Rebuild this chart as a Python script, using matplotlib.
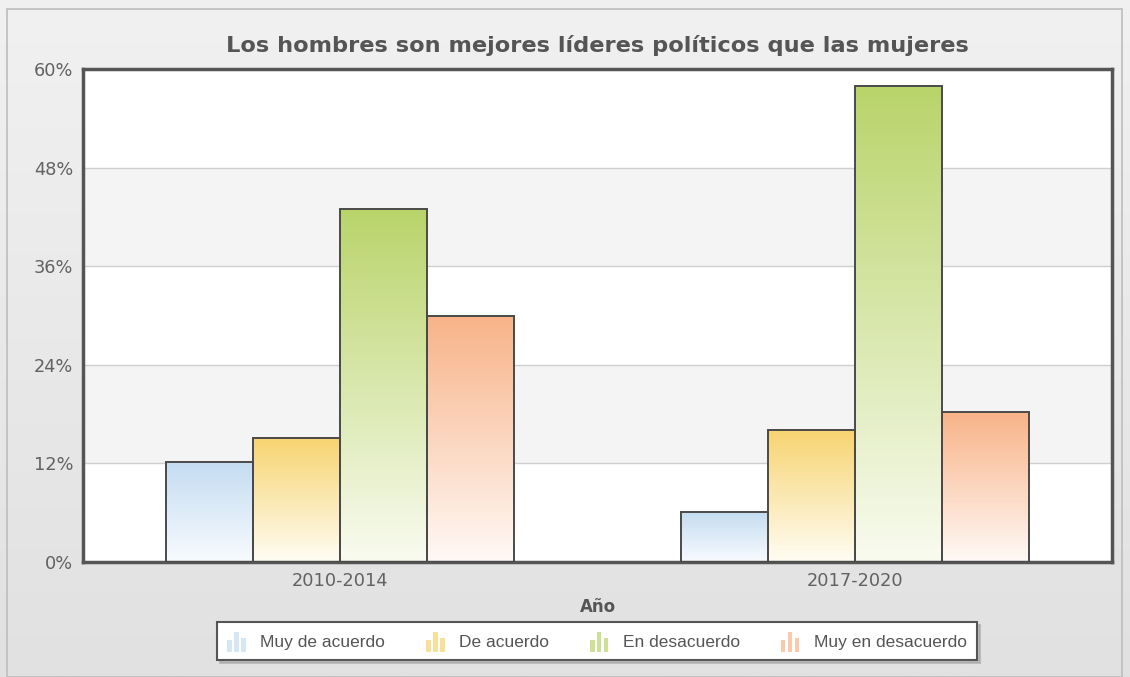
"""Los hombres son mejores líderes políticos que las mujeres - grouped bars."""

import matplotlib

matplotlib.use("Agg")
import matplotlib.pyplot as plt
import numpy as np
from matplotlib.colors import LinearSegmentedColormap
from matplotlib.legend_handler import HandlerBase
from matplotlib.patches import Rectangle

periods = ["2010-2014", "2017-2020"]
series = ["Muy de acuerdo", "De acuerdo", "En desacuerdo", "Muy en desacuerdo"]
values = [
    [12.2, 6.1],   # Muy de acuerdo
    [15.1, 16.1],  # De acuerdo
    [43.0, 57.9],  # En desacuerdo
    [30.0, 18.2],  # Muy en desacuerdo
]
yticks = [0, 12, 24, 36, 48, 60]

top_colors = ["#c4dcf1", "#f7d470", "#b9d46a", "#f8b388"]
bottom_colors = ["#f8fbff", "#fffdf4", "#f9fbf0", "#fff9f6"]


class BarIcon(HandlerBase):
    """Small three-bar icon used in the legend."""

    def __init__(self, color):
        super().__init__()
        self.color = color

    def create_artists(self, legend, orig_handle, xdescent, ydescent,
                       width, height, fontsize, trans):
        bw = width / 4.0
        heights = [0.6, 1.0, 0.7]
        arts = []
        for i, h in enumerate(heights):
            r = Rectangle((-xdescent + i * bw * 1.45, -ydescent - 0.15 * height),
                          bw, height * h * 1.15,
                          facecolor=self.color, edgecolor="none",
                          alpha=0.7, transform=trans)
            arts.append(r)
        return arts


def main() -> None:
    fig = plt.figure(figsize=(11.3, 6.77), dpi=100)

    # background gradient
    bg = fig.add_axes([0, 0, 1, 1], zorder=-10)
    bg_cmap = LinearSegmentedColormap.from_list("bg", ["#f1f1f1", "#e1e1e1"])
    bg.imshow(np.linspace(0, 1, 256).reshape(-1, 1), cmap=bg_cmap,
              aspect="auto", extent=[0, 1, 0, 1])
    bg.add_patch(Rectangle((7 / 1130, 0), 1115 / 1130, 1 - 9 / 677,
                           fill=False, edgecolor="#bdbdbd", lw=1.2))
    bg.set_xlim(0, 1)
    bg.set_ylim(0, 1)
    bg.axis("off")

    ax = fig.add_axes([83 / 1130, 1 - 562 / 677, 1029 / 1130, 493 / 677])
    ax.set_facecolor("white")

    # alternating bands
    for i in range(len(yticks) - 1):
        if i % 2 == 1:
            ax.axhspan(yticks[i], yticks[i + 1], color="#f4f4f4", zorder=0, lw=0)
    for t in yticks[1:-1]:
        ax.axhline(t, color="#cfcfcf", lw=1, zorder=1)

    n = len(series)
    width = 0.169
    x = np.arange(len(periods))
    grad = np.linspace(0, 1, 256).reshape(-1, 1)
    for i, name in enumerate(series):
        cmap = LinearSegmentedColormap.from_list(
            name, [bottom_colors[i], top_colors[i]])
        offs = x + (i - (n - 1) / 2) * width
        for xc, v in zip(offs, values[i]):
            ax.imshow(grad, cmap=cmap, origin="lower", aspect="auto",
                      extent=[xc - width / 2, xc + width / 2, 0, v], zorder=2)
        ax.bar(offs, values[i], width, facecolor="none", edgecolor="#4a4a4a",
               lw=1.4, zorder=3)

    ax.set_xlim(-0.5, 1.5)
    ax.set_ylim(0, 60)
    ax.set_xticks(x)
    ax.set_xticklabels(periods)
    ax.set_yticks(yticks)
    ax.set_yticklabels([f"{t}%" for t in yticks])
    ax.tick_params(length=0, labelsize=12.8, labelcolor="#626262", pad=7)
    for s in ax.spines.values():
        s.set_color("#555555")
        s.set_linewidth(2.5)

    ax.set_xlabel("Año", fontsize=12, fontweight="bold", color="#555555",
                  labelpad=6)
    fig.text(597 / 1130, 1 - 45 / 677,
             "Los hombres son mejores líderes políticos que las mujeres",
             ha="center", va="center", fontsize=16.2, fontweight="bold",
             color="#555555")

    handles = [Rectangle((0, 0), 1, 1) for _ in series]
    leg = fig.legend(
        handles, series, ncol=4, loc="center",
        bbox_to_anchor=(597 / 1130, 1 - 641 / 677),
        handler_map={h: BarIcon(c) for h, c in zip(handles, top_colors)},
        prop={"family": "Liberation Sans", "size": 12.5},
        frameon=True, fancybox=False,
        shadow={"ox": 2, "oy": -2, "color": "#9a9a9a"},
        handlelength=1.1, handleheight=1.1, handletextpad=0.8,
        columnspacing=2.35, borderpad=0.6,
    )
    leg.get_frame().set_edgecolor("#555555")
    leg.get_frame().set_linewidth(1.5)
    for t in leg.get_texts():
        t.set_color("#555555")

    fig.savefig("out.png", dpi=100)


if __name__ == "__main__":
    main()
